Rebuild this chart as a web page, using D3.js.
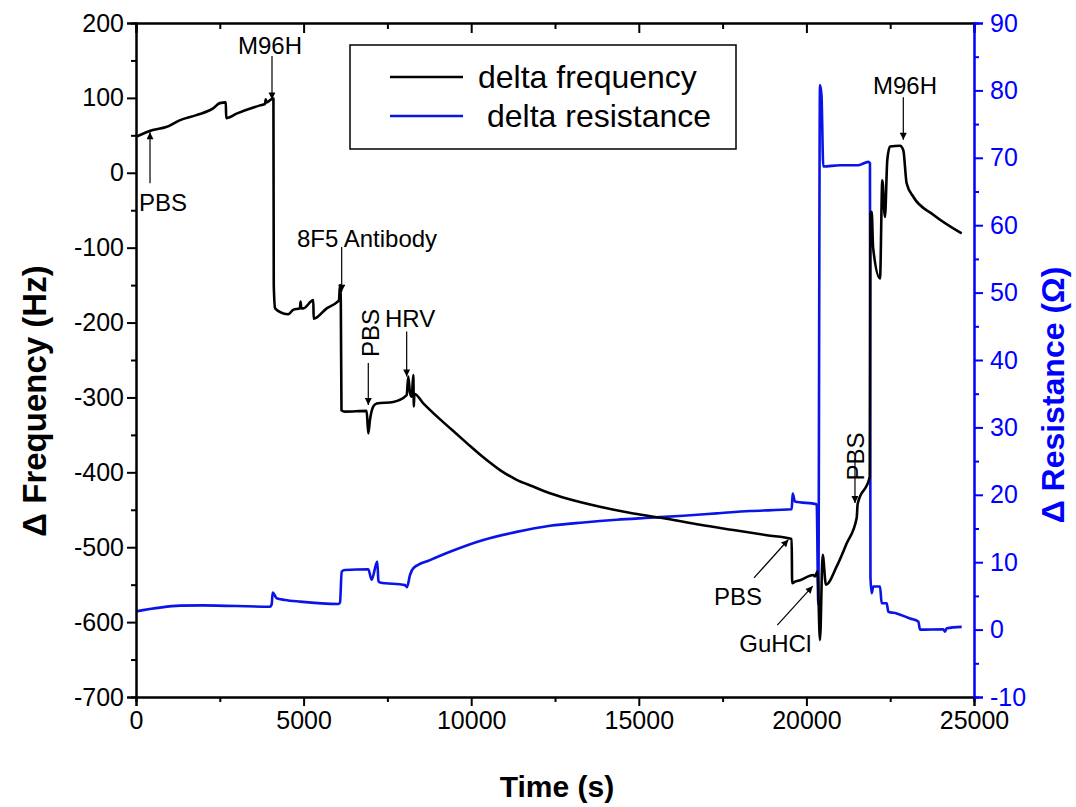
<!DOCTYPE html>
<html><head><meta charset="utf-8">
<script src="https://cdn.jsdelivr.net/npm/d3@7"></script>
<style>body{margin:0;background:#fff} text{font-family:Arial,'Liberation Sans',sans-serif}</style>
</head><body><svg id="c" width="1076" height="807"></svg>
<script>
// ---- data ----
const freqTime = [0,500,900,1300,1800,2300,2500,2680,2690,3000,3700,3850,3870,3900,4000,4080,4100,4110,4150,4300,4540,4690,4890,4910,4930,4990,5290,5300,5690,5990,6056,6086,6110,6130,6235,6880,6930,6980,7080,7180,7676,8075,8123,8174,8225,8273,8290,8303,8571,8870,9367,9870,10361,10860,11357,11850,12351,12850,13840,14840,15830,16830,17820,18820,19560,19575,19660,19810,20205,20256,20330,20405,20485,20584,20900,21200,21500,21530,21890,21910,21948,21990,22196,22265,22344,22413,22494,22792,22891,22990,23189,23786,24633];
const freqHz   = [48,57,61,70,77,86,93,94,73,79,90,92,98,94,97,99,99,-150,-181,-186,-189,-183,-181,-172,-181,-181,-170,-195,-181,-173,-170,-150,-170,-317,-319,-318,-348,-330,-312,-308,-306,-297,-272,-294,-299,-270,-312,-295,-308,-321,-341,-361,-380,-397,-410,-419,-428,-435,-446,-455,-462,-470,-477,-484,-489,-548,-546,-544,-537,-539,-532,-624,-510,-550,-526,-495,-461,-442,-406,-54,-52,-100,-141,-10,-59,17,35,36,30,-14,-32,-56,-81];
const resTime = [0,1313,2000,3997,4050,4078,4197,4445,4892,6035,6086,6136,6235,6930,7030,7197,7234,7279,8025,8085,8174,8273,8770,9367,10361,11357,12351,13345,14340,15334,16328,17323,18317,19561,19590,19660,20307,20355,20405,20450,20504,21000,21548,21846,21896,21911,21948,21996,22196,22246,22395,22444,22694,23092,23339,23389,24084,24135,24186,24633];
const resOhm  = [2.7,3.55,3.6,3.4,3.8,5.5,4.65,4.4,4.15,3.8,4.0,8.6,8.85,8.95,7.4,10.1,7.2,7.0,6.6,6.3,8.1,9.1,10.3,11.55,13.3,14.5,15.4,15.9,16.3,16.6,16.9,17.25,17.6,17.85,20.2,19.0,18.6,3.8,80.8,79.3,68.7,68.9,68.9,69.4,69.2,7.85,5.4,6.4,6.4,3.9,3.9,2.65,2.4,1.65,1.2,0,0.05,-0.3,0.2,0.4];

const timeTicks = [0,5000,10000,15000,20000,25000];
const timeMinor = [2500,7500,12500,17500,22500];
const freqTicks = [-700,-600,-500,-400,-300,-200,-100,0,100,200];
const freqMinor = [-650,-550,-450,-350,-250,-150,-50,50,150];
const resTicks  = [-10,0,10,20,30,40,50,60,70,80,90];
const resMinor  = [-5,5,15,25,35,45,55,65,75,85];

// annotations: label, text pos (t, Hz), rotation, anchor, arrow tail (t,Hz), arrow head (t,Hz)
const annLabels = ["PBS","M96H","8F5 Antibody","PBS","HRV","PBS","GuHCl","PBS","M96H"];
const annTextT  = [90,3997,4803,6981,7428,17243,17997,21449,22941];
const annTextHz = [-39,170.6,-87,-214,-194,-566,-628,-379,117];
const annRotate = [0,0,0,-90,0,0,0,-90,0];
const annAnchor = ["start","middle","start","middle","start","start","start","middle","middle"];
const annTailT  = [418,4057,6136,6930,8075,18436,19131,21449,22891];
const annTailHz = [-14,156,-99,-254,-212,-541,-604,-382,101];
const annHeadT  = [418,4057,6136,6930,8075,19460,20188,21449,22891];
const annHeadHz = [54,98,-159,-310,-272,-490,-552,-441,44];

const legendLabels = ["delta frequency","delta resistance"];
const colors = ["#000000","#0a14e6"];

// ---- layout ----
const L=136,R=974,T=23,B=697;
const svg=d3.select("#c");
const x=d3.scaleLinear().domain([0,25000]).range([L,R]);
const yF=d3.scaleLinear().domain([-700,200]).range([B,T]);
const yR=d3.scaleLinear().domain([-10,90]).range([B,T]);

const defs=svg.append("defs");
defs.append("marker").attr("id","ah").attr("viewBox","0 0 10 10").attr("refX",10).attr("refY",5)
  .attr("markerWidth",12).attr("markerHeight",7).attr("markerUnits","userSpaceOnUse").attr("orient","auto")
  .append("path").attr("d","M0,0L10,5L0,10Z").attr("fill","#000");

// data lines
const lineF=d3.line().curve(d3.curveMonotoneX).x((d,i)=>x(freqTime[i])).y((d,i)=>yF(freqHz[i]));
const lineR=d3.line().curve(d3.curveMonotoneX).x((d,i)=>x(resTime[i])).y((d,i)=>yR(resOhm[i]));
svg.append("path").attr("d",lineR(resOhm)).attr("fill","none").attr("stroke",colors[1]).attr("stroke-width",2.6).attr("stroke-linejoin","round");
svg.append("path").attr("d",lineF(freqHz)).attr("fill","none").attr("stroke",colors[0]).attr("stroke-width",2.6).attr("stroke-linejoin","round");

// axes
function styleAxis(g,col){
  g.selectAll("path.domain").attr("stroke",col).attr("stroke-width",2);
  g.selectAll(".tick line").attr("stroke",col).attr("stroke-width",2);
  g.selectAll(".tick text").attr("fill",col).style("font-size","25px").style("font-family","Arial,'Liberation Sans',sans-serif");
}
const fmt=d=>String(d);
let g;
g=svg.append("g").attr("transform",`translate(0,${B})`).call(d3.axisBottom(x).tickValues(timeMinor).tickSize(5).tickFormat("")); styleAxis(g,"#000");
g=svg.append("g").attr("transform",`translate(0,${B})`).call(d3.axisBottom(x).tickValues(timeTicks).tickSize(9).tickPadding(5).tickFormat(fmt)); styleAxis(g,"#000");
g=svg.append("g").attr("transform",`translate(0,${T})`).call(d3.axisTop(x).tickValues(timeMinor).tickSize(-6).tickFormat("")); styleAxis(g,"#000");
g=svg.append("g").attr("transform",`translate(0,${T})`).call(d3.axisTop(x).tickValues(timeTicks).tickSize(-10).tickFormat("")); styleAxis(g,"#000");
g=svg.append("g").attr("transform",`translate(${L},0)`).call(d3.axisLeft(yF).tickValues(freqMinor).tickSize(5).tickFormat("")); styleAxis(g,"#000");
g=svg.append("g").attr("transform",`translate(${L},0)`).call(d3.axisLeft(yF).tickValues(freqTicks).tickSize(9).tickPadding(3).tickFormat(fmt)); styleAxis(g,"#000");
g=svg.append("g").attr("transform",`translate(${R},0)`).call(d3.axisRight(yR).tickValues(resMinor).tickSize(5).tickFormat("")); styleAxis(g,"#0000ff");
g=svg.append("g").attr("transform",`translate(${R},0)`).call(d3.axisRight(yR).tickValues(resTicks).tickSize(9).tickPadding(7).tickFormat(fmt)); styleAxis(g,"#0000ff");

// titles
svg.append("text").attr("transform",`translate(46,401) rotate(-90)`).attr("text-anchor","middle")
  .style("font-size","33px").style("font-weight","bold").text("\u0394 Frequency (Hz)");
svg.append("text").attr("transform",`translate(1064,395) rotate(-90)`).attr("text-anchor","middle").attr("fill","#0000ff")
  .style("font-size","32px").style("font-weight","bold").text("\u0394 Resistance (\u03A9)");
svg.append("text").attr("x",557).attr("y",797).attr("text-anchor","middle")
  .style("font-size","30px").style("font-weight","bold").text("Time (s)");

// legend
svg.append("rect").attr("x",350).attr("y",45).attr("width",386).attr("height",104).attr("fill","#fff").attr("stroke","#000").attr("stroke-width",1.5);
const ly=[77,116], lx=[478,487];
legendLabels.forEach((lab,i)=>{
  svg.append("line").attr("x1",390).attr("x2",463).attr("y1",ly[i]).attr("y2",ly[i]).attr("stroke",colors[i]).attr("stroke-width",2.6);
  svg.append("text").attr("x",lx[i]).attr("y",ly[i]).attr("dy","0.35em").style("font-size","32px").text(lab);
});

// annotations
annLabels.forEach((lab,i)=>{
  svg.append("line").attr("x1",x(annTailT[i])).attr("y1",yF(annTailHz[i])).attr("x2",x(annHeadT[i])).attr("y2",yF(annHeadHz[i]))
    .attr("stroke","#000").attr("stroke-width",1.2).attr("marker-end","url(#ah)");
  svg.append("text").attr("transform",`translate(${x(annTextT[i])},${yF(annTextHz[i])}) rotate(${annRotate[i]})`)
    .attr("text-anchor",annAnchor[i]).attr("dy","0.36em").style("font-size","24px").text(lab);
});
</script></body></html>
